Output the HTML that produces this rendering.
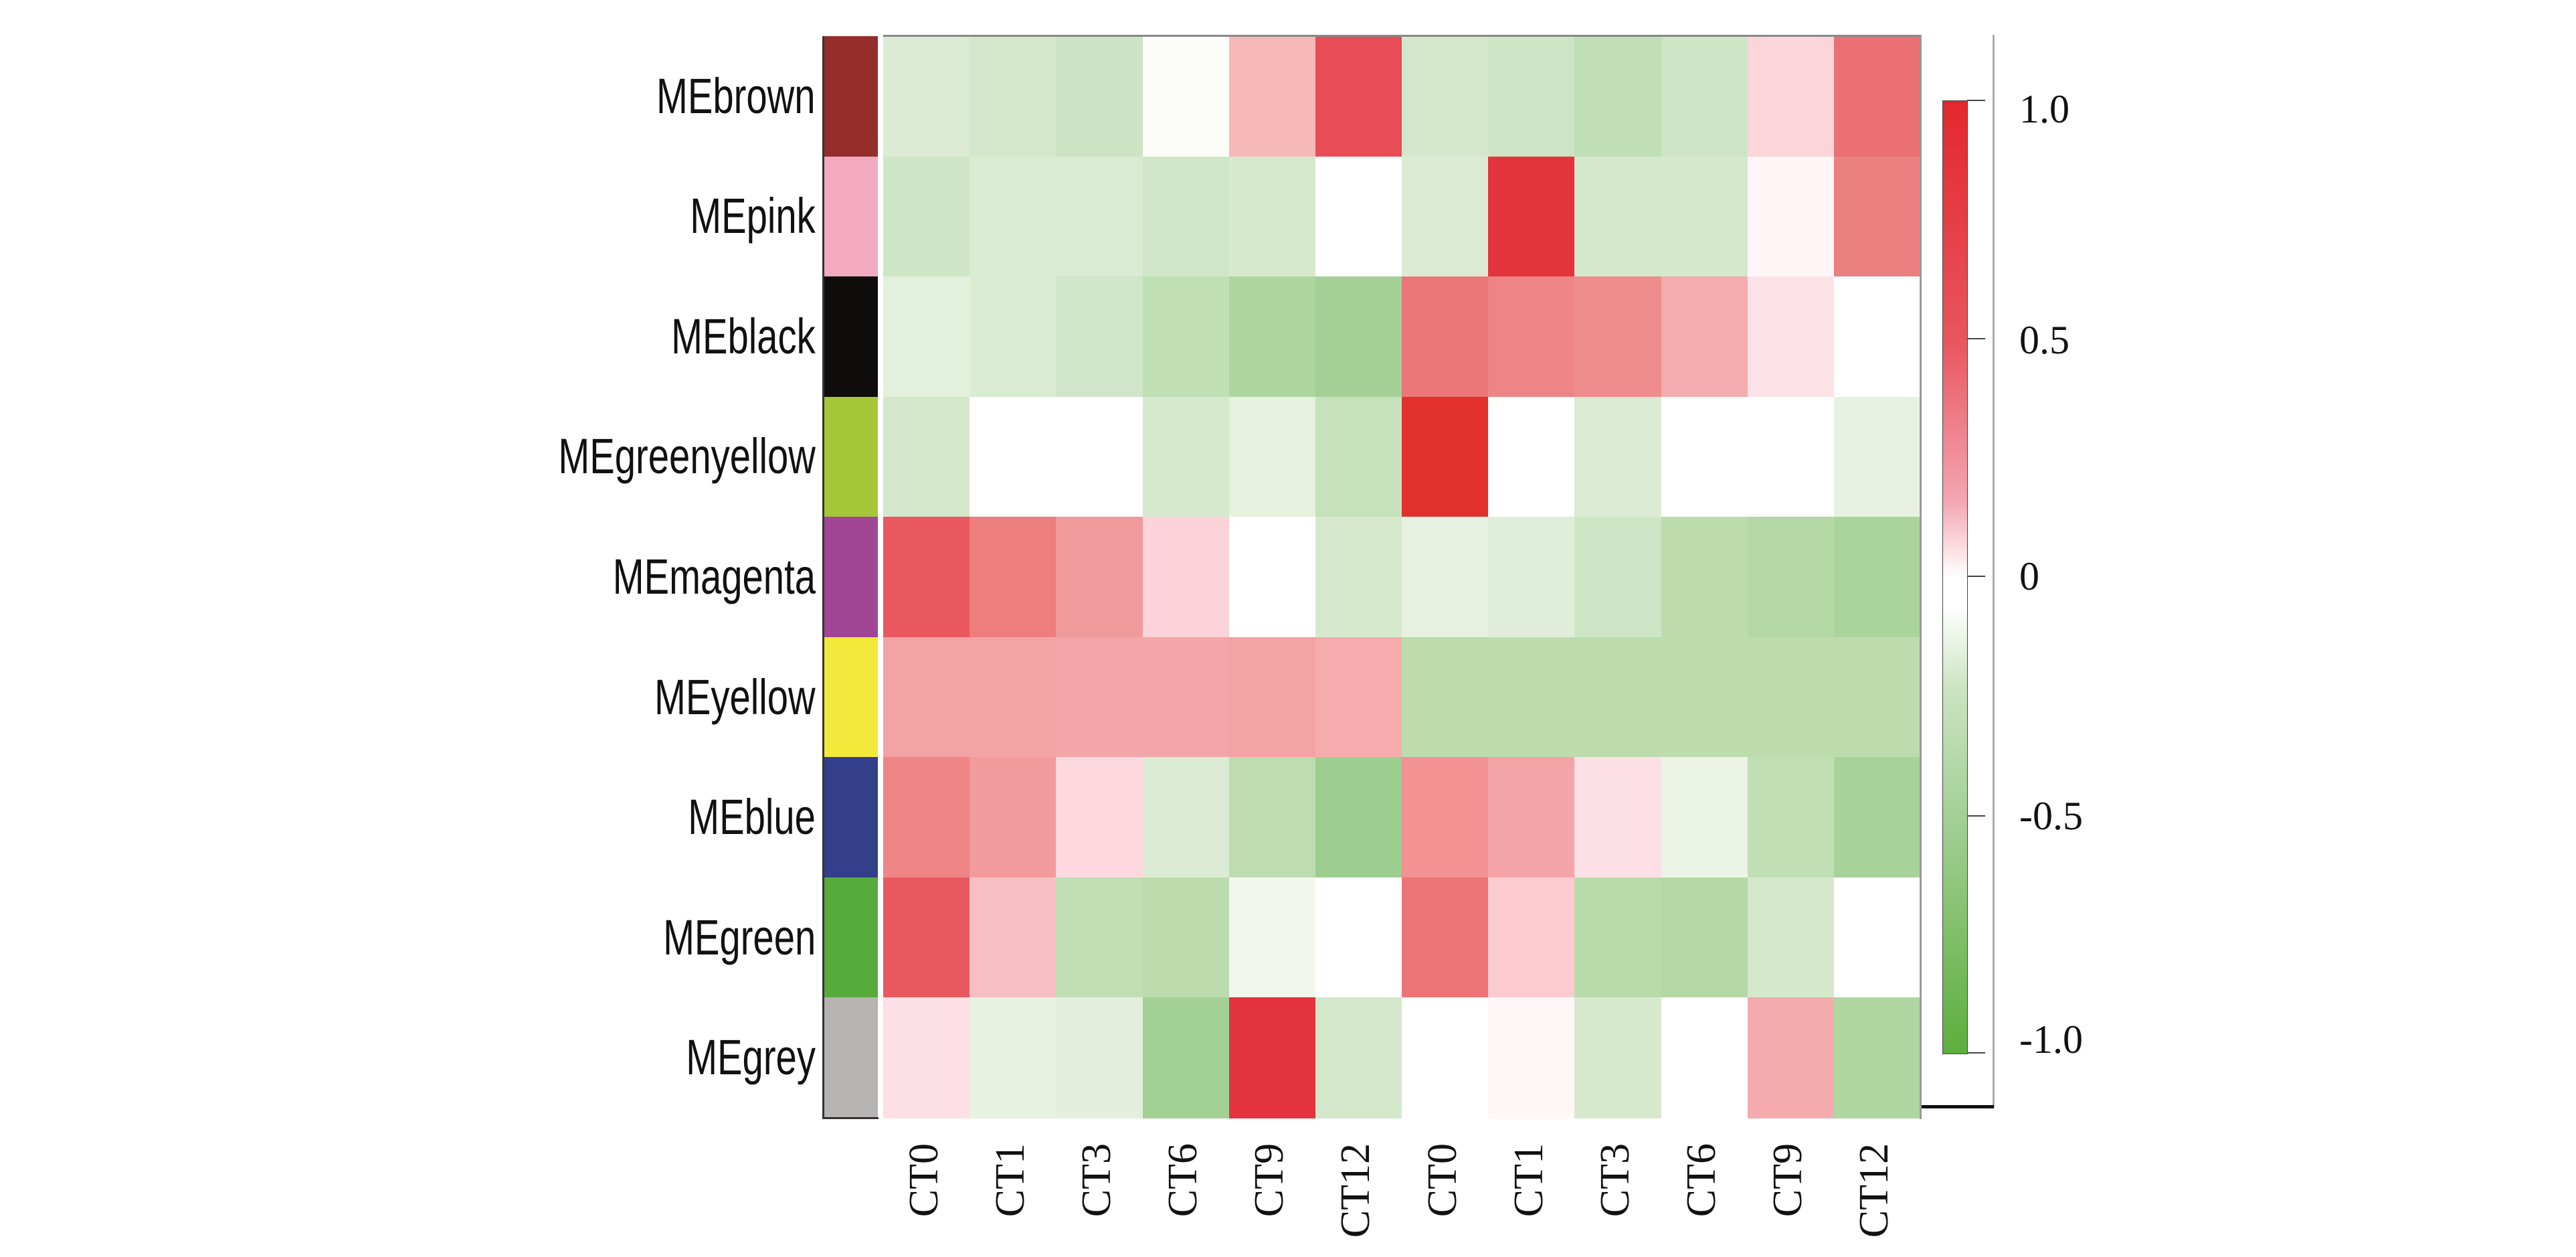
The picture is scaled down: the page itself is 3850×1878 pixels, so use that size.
<!DOCTYPE html>
<html><head><meta charset="utf-8"><style>
body{margin:0;width:3850px;height:1878px;background:#fff;position:relative;overflow:hidden}
.a{position:absolute}
.rl{position:absolute;right:2631px;font-family:"Liberation Sans",sans-serif;font-size:74px;color:#111;transform:scaleX(0.76);transform-origin:right center;white-space:nowrap;line-height:80px}
.xl{position:absolute;top:1708px;writing-mode:vertical-rl;transform:rotate(180deg);font-family:"Liberation Serif",serif;font-size:62px;line-height:62px;color:#111;white-space:nowrap}
.cl{position:absolute;left:3018px;font-family:"Liberation Serif",serif;font-size:60px;line-height:60px;color:#111}
</style></head><body>
<div id="hm"></div>
<script>
var rows=[
["#dcebd3","#d3e8cb","#cce4c3","#fcfdf8","#f7b8b8","#e84d57","#d3e8cb","#cde5c4","#c1dfb6","#cde5c4","#fbd5da","#ea7074"],
["#cee6c6","#d9ebd1","#d9ebd1","#d0e6c8","#d6e9cd","#ffffff","#dcecd4","#e3343c","#d4e8cc","#d4e8cc","#fff5f7","#ec7f80"],
["#e3f0dc","#d9ebd1","#d0e6c8","#c0dfb4","#aed5a0","#a4d096","#ec7779","#ee8486","#ef8c8d","#f4acae","#fde2e7","#ffffff"],
["#d3e8cb","#ffffff","#ffffff","#d6e9cd","#e6f1de","#c6e2bb","#e2302c","#ffffff","#dbebd3","#ffffff","#ffffff","#e9f2e2"],
["#e9585f","#ee7d7d","#f19a9b","#fbd3d8","#ffffff","#d6e9cd","#e7f1e0","#e0eed9","#cfe6c6","#bcdcae","#b3d8a5","#abd49c"],
["#f4a3a5","#f4a3a5","#f4a5a7","#f4a5a7","#f4a3a5","#f6acad","#bcdcae","#bcdcae","#bcdcae","#bcdcae","#bcdcae","#bcdcae"],
["#ef8586","#f39b9c","#fdd9df","#dcecd4","#bddcb0","#9ecd90","#f29293","#f4a4a6","#fde0e5","#ecf4e6","#c0dfb4","#a7d299"],
["#e9585f","#f7bfc3","#c0dfb4","#bcdcae","#f1f7ec","#ffffff","#ec7376","#fbcbd1","#b9dbac","#b4d8a6","#d4e8cc","#ffffff"],
["#fde0e5","#e8f2e1","#e3efdc","#a3d095","#e3333c","#d3e8cb","#ffffff","#fff6f8","#d6e9cd","#ffffff","#f4abad","#afd6a1"]];
var side=["#952d2b","#f3aac0","#0f0d0c","#a4c73a","#a04694","#f2e93a","#333f8b","#56ab3a","#b7b4b2"];
var names=["MEbrown","MEpink","MEblack","MEgreenyellow","MEmagenta","MEyellow","MEblue","MEgreen","MEgrey"];
var cts=["CT0","CT1","CT3","CT6","CT9","CT12","CT0","CT1","CT3","CT6","CT9","CT12"];
var h="",T=54,RH=1616/9,L=1320,CW=1550/12;
for(var i=0;i<9;i++){var y=T+RH*i;
 h+='<div class="a" style="left:1231px;top:'+y+'px;width:81px;height:'+(RH+1)+'px;background:'+side[i]+'"></div>';
 h+='<div class="rl" style="top:'+(y+RH/2-40)+'px">'+names[i]+'</div>';
 for(var j=0;j<12;j++){h+='<div class="a" style="left:'+(L+CW*j)+'px;top:'+y+'px;width:'+(CW+1)+'px;height:'+(RH+1)+'px;background:'+rows[i][j]+'"></div>';}
}
for(var j=0;j<12;j++){h+='<div class="xl" style="left:'+(L+CW*j+CW/2-35)+'px">'+cts[j]+'</div>';}
document.getElementById("hm").innerHTML=h;
</script>
<div class="a" style="left:1229px;top:54px;width:3px;height:1618px;background:#333"></div>
<div class="a" style="left:1229px;top:1669px;width:84px;height:3px;background:#333"></div>
<div class="a" style="left:1320px;top:52px;width:1551px;height:3px;background:#888"></div>
<div class="a" style="left:2869px;top:52px;width:3px;height:1620px;background:#999"></div>
<div class="a" style="left:2978px;top:52px;width:3px;height:1603px;background:#aaa"></div>
<div class="a" style="left:2872px;top:1651px;width:108px;height:5px;background:#111"></div>
<div class="a" style="left:2903px;top:150px;width:36px;height:1423px;border:1px solid #444;background:linear-gradient(#e2282e 0%,#e8555e 25%,#f4a6b2 42%,#ffffff 50%,#ffffff 53%,#c9e4bf 62%,#a3d096 75%,#5caf3c 100%)"></div>
<div class="a" style="left:2940px;top:149px;width:27px;height:2px;background:#444"></div>
<div class="a" style="left:2940px;top:505px;width:27px;height:2px;background:#444"></div>
<div class="a" style="left:2940px;top:860px;width:27px;height:2px;background:#444"></div>
<div class="a" style="left:2940px;top:1218px;width:27px;height:2px;background:#444"></div>
<div class="a" style="left:2940px;top:1572px;width:27px;height:2px;background:#444"></div>
<div class="cl" style="top:133px">1.0</div>
<div class="cl" style="top:478px">0.5</div>
<div class="cl" style="top:831px">0</div>
<div class="cl" style="top:1189px">-0.5</div>
<div class="cl" style="top:1523px">-1.0</div>
</body></html>
